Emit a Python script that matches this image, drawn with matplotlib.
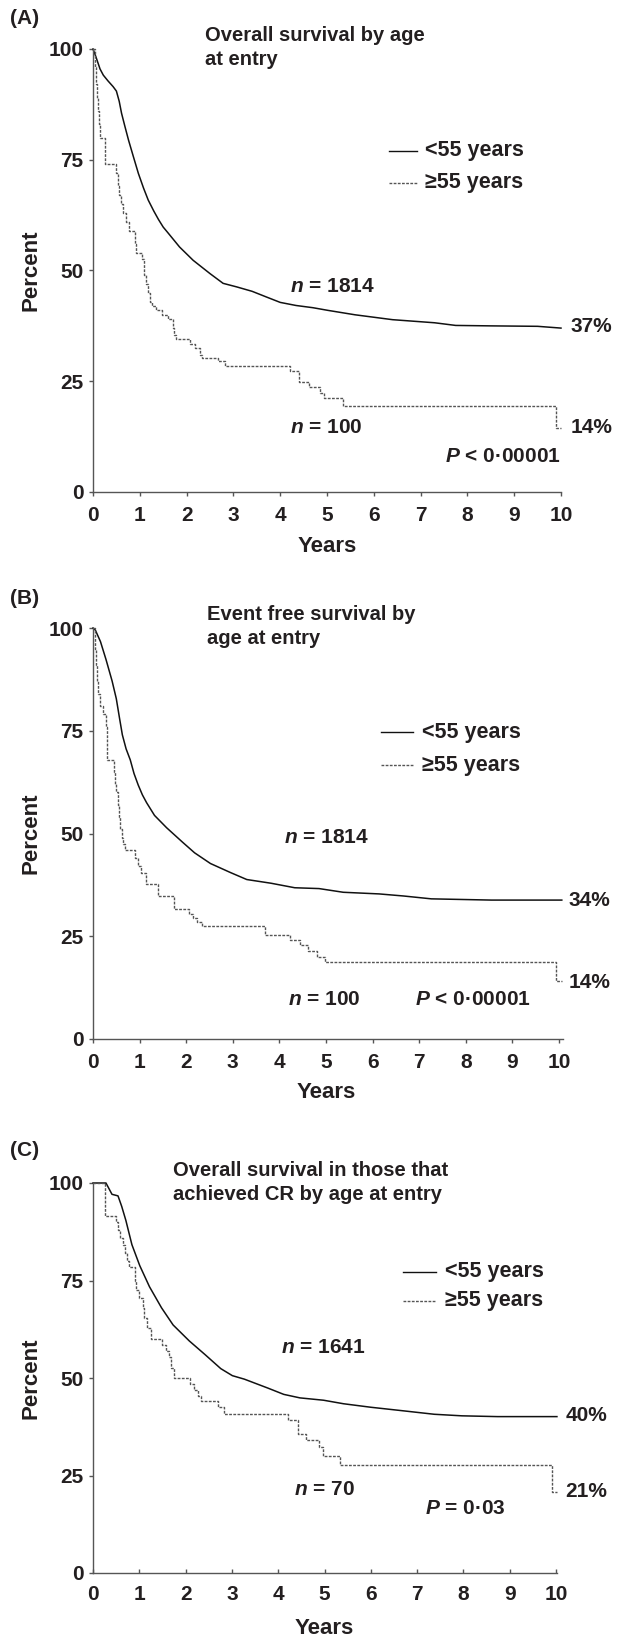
import matplotlib
matplotlib.use('Agg')
import matplotlib.pyplot as plt

plt.rcParams['font.family'] = ['Liberation Sans', 'DejaVu Sans']
plt.rcParams['font.weight'] = 'bold'
plt.rcParams['mathtext.fontset'] = 'custom'
plt.rcParams['mathtext.it'] = 'Liberation Sans:italic:bold'
plt.rcParams['mathtext.rm'] = 'Liberation Sans:bold'

TXT = '#231f20'
AX = '#555555'

# Panel A: overall survival by age at entry
a_young_t = [0, 0.06, 0.15, 0.22, 0.32, 0.43, 0.5, 0.56, 0.61, 0.68, 0.76, 0.86, 0.97, 1.08, 1.18,
             1.3, 1.4, 1.5, 1.61, 1.85, 2.14, 2.5, 2.78, 3.07, 3.4, 3.71, 4.0, 4.34, 4.7, 5.02,
             5.6, 6.4, 7.3, 7.75, 8.5, 9.5, 10.0]
a_young_s = [100, 98.3, 95.5, 94.1, 92.8, 91.5, 90.5, 88.2, 85.5, 82.6, 79.4, 75.8, 71.9, 68.6, 65.9,
             63.4, 61.5, 59.8, 58.4, 55.3, 52.3, 49.3, 47.1, 46.3, 45.3, 44.0, 42.8, 42.1, 41.6, 41.0,
             40.0, 38.9, 38.2, 37.6, 37.5, 37.4, 37.0]
a_old_t = [0, 0.04, 0.07, 0.09, 0.11, 0.13, 0.16, 0.26, 0.50, 0.53, 0.56, 0.60, 0.65, 0.70, 0.76,
           0.90, 0.92, 1.04, 1.10, 1.13, 1.17, 1.21, 1.27, 1.35, 1.47, 1.60, 1.70, 1.73, 1.78, 2.08,
           2.17, 2.28, 2.33, 2.67, 2.82, 4.22, 4.41, 4.62, 4.86, 4.94, 5.34, 9.89, 10.0]
a_old_s = [100, 96, 92, 89, 86, 83, 80, 74, 72, 69, 67, 65, 63, 61, 59,
           56, 54, 52.5, 49, 47, 45, 43, 42, 41, 40, 39, 37, 35.5, 34.5, 33.5,
           32.5, 31, 30.3, 29.5, 28.5, 27.3, 24.8, 23.6, 22.3, 21.2, 19.4, 14.4, 14.4]

# Panel B: event free survival by age at entry
b_young_t = [0, 0.05, 0.16, 0.28, 0.41, 0.5, 0.57, 0.63, 0.71, 0.8, 0.88, 0.97, 1.06, 1.15, 1.32,
             1.58, 1.92, 2.18, 2.52, 2.95, 3.3, 3.82, 4.33, 4.85, 5.37, 6.14, 6.66, 7.26, 8.55, 10.06]
b_young_s = [100, 99.5, 96.7, 92.3, 87.1, 82.8, 78.0, 74.0, 70.6, 67.9, 64.6, 61.8, 59.4, 57.5, 54.4,
             51.4, 47.9, 45.3, 42.7, 40.5, 38.8, 37.9, 36.8, 36.6, 35.7, 35.3, 34.8, 34.1, 33.8, 33.8]
b_old_t = [0, 0.04, 0.07, 0.09, 0.11, 0.16, 0.22, 0.27, 0.30, 0.46, 0.48, 0.50, 0.53, 0.56, 0.59,
           0.62, 0.65, 0.69, 0.90, 0.97, 1.02, 1.13, 1.40, 1.73, 2.06, 2.15, 2.24, 2.33, 3.70, 4.22,
           4.44, 4.62, 4.80, 4.97, 9.93, 10.06]
b_old_s = [100, 95, 91, 87, 84, 81, 79, 75.8, 68, 65, 62, 60, 57, 54, 51,
           49, 47.5, 46, 44, 42, 40.5, 37.8, 34.8, 31.6, 30.5, 29.5, 28.5, 27.5, 25.2, 24.0,
           22.8, 21.5, 20.0, 18.8, 14, 14]

# Panel C: overall survival in those that achieved CR
c_young_t = [0, 0.28, 0.41, 0.54, 0.62, 0.71, 0.84, 1.01, 1.22, 1.48, 1.73, 2.08, 2.42, 2.76, 3.01,
             3.27, 3.78, 4.12, 4.47, 4.98, 5.41, 6.0, 6.69, 7.37, 7.97, 8.74, 10.02]
c_young_s = [100, 100, 97.1, 96.7, 94.0, 90.4, 84.2, 78.8, 73.4, 68.0, 63.6, 59.5, 56.0, 52.4, 50.6,
             49.7, 47.4, 45.8, 44.9, 44.3, 43.4, 42.5, 41.6, 40.7, 40.3, 40.1, 40.1]
c_old_t = [0, 0.25, 0.50, 0.54, 0.59, 0.64, 0.69, 0.74, 0.78, 0.90, 0.93, 1.00, 1.07, 1.10, 1.17,
           1.25, 1.49, 1.58, 1.64, 1.69, 1.76, 2.10, 2.18, 2.26, 2.33, 2.70, 2.84, 4.21, 4.42, 4.61,
           4.88, 4.96, 5.33, 9.92, 10.02]
c_old_s = [100, 91.5, 90, 88, 86, 84, 82, 80, 78.5, 75, 72.5, 70.5, 68, 65.5, 62.8,
           60, 58.5, 57, 55.5, 52.5, 50, 48.5, 47, 45.5, 44, 42.5, 40.8, 39.2, 35.7, 34.2,
           32.3, 30.0, 27.6, 20.8, 20.8]

panel_letters = ['(A)', '(B)', '(C)']
titles = ['Overall survival by age\nat entry',
          'Event free survival by\nage at entry',
          'Overall survival in those that\nachieved CR by age at entry']
n_young = ['1814', '1814', '1641']
n_old = ['100', '100', '70']
p_texts = [r'$P$ < 0·00001', r'$P$ < 0·00001', r'$P$ = 0·03']
end_young = ['37%', '34%', '40%']
end_old = ['14%', '14%', '21%']
legend_labels = ['<55 years', '≥55 years']
yticks = [0, 25, 50, 75, 100]
xticks = list(range(11))

W, H = 619, 1639
fig = plt.figure(figsize=(W / 100, H / 100), dpi=100)

# pixel layout of each panel
layout = [
    dict(top=49, bottom=492, xmax=10.0, x10=561, tickdir='out', years_y=547, letter_y=19,
         title_xy=(2.40, 100.4), leg_x=(6.33, 6.93, 7.10), leg_y=(77.0, 69.8),
         ny=(4.2, 46.3), no=(4.2, 14.6), pxy=(10.0, 8.0, 'right'), ey=37.3, eo=14.5),
    dict(top=628, bottom=1039, xmax=10.08, x10=559, tickdir='out', years_y=1092, letter_y=599,
         title_xy=(2.45, 100.3), leg_x=(6.18, 6.87, 7.06), leg_y=(74.6, 66.6),
         ny=(4.1, 49.0), no=(4.18, 9.6), pxy=(6.92, 9.6, 'left'), ey=33.8, eo=13.8),
    dict(top=1183, bottom=1573, xmax=10.02, x10=556, tickdir='in', years_y=1628, letter_y=1150,
         title_xy=(1.73, 100.2), leg_x=(6.69, 7.41, 7.60), leg_y=(77.2, 69.8),
         ny=(4.06, 57.7), no=(4.34, 21.5), pxy=(7.16, 16.6, 'left'), ey=40.3, eo=20.8),
]

data = [(a_young_t, a_young_s, a_old_t, a_old_s),
        (b_young_t, b_young_s, b_old_t, b_old_s),
        (c_young_t, c_young_s, c_old_t, c_old_s)]

FS = 15
x0 = 93
for i, lay in enumerate(layout):
    yt, ys, ot, os_ = data[i]
    width_px = (lay['x10'] - x0) * lay['xmax'] / 10.0
    ax = fig.add_axes([x0 / W, 1 - lay['bottom'] / H, width_px / W,
                       (lay['bottom'] - lay['top']) / H])
    ax.plot(yt, ys, color='#111111', lw=1.1, clip_on=False)
    ax.plot(ot, os_, color='#555555', lw=1.0, ls=(0, (2, 1)), drawstyle='steps-post',
            clip_on=False)
    ax.set_xlim(0, lay['xmax'])
    ax.set_ylim(0, 100)
    ax.set_xticks(xticks)
    ax.set_yticks(yticks)
    for s in ['top', 'right']:
        ax.spines[s].set_visible(False)
    for s in ['left', 'bottom']:
        ax.spines[s].set_color(AX)
        ax.spines[s].set_linewidth(1.0)
    ax.tick_params(axis='x', direction=lay['tickdir'], length=3, width=1.0, color=AX,
                   labelsize=FS, pad=7 if lay['tickdir'] == 'out' else 9, labelcolor=TXT)
    ax.tick_params(axis='y', direction='out', length=3, width=1.0, color=AX,
                   labelsize=FS, pad=4, labelcolor=TXT)
    ax.patch.set_alpha(0)

    ax.text(lay['title_xy'][0], lay['title_xy'][1], titles[i], ha='left', va='center',
            fontsize=14.5, color=TXT, linespacing=1.35, clip_on=False)
    lx0, lx1, ltx = lay['leg_x']
    ax.plot([lx0, lx1], [lay['leg_y'][0]] * 2, color='#111111', lw=1.0)
    ax.plot([lx0, lx1], [lay['leg_y'][1]] * 2, color='#555555', lw=1.0, ls=(0, (2, 1)))
    ax.text(ltx, lay['leg_y'][0], legend_labels[0], ha='left', va='center', fontsize=FS + 0.5,
            color=TXT)
    ax.text(ltx, lay['leg_y'][1], legend_labels[1], ha='left', va='center', fontsize=FS + 0.5,
            color=TXT)

    ax.text(lay['ny'][0], lay['ny'][1], r'$n$ = ' + n_young[i], ha='left', va='center',
            fontsize=FS, color=TXT)
    ax.text(lay['no'][0], lay['no'][1], r'$n$ = ' + n_old[i], ha='left', va='center',
            fontsize=FS, color=TXT)
    ax.text(lay['pxy'][0], lay['pxy'][1], p_texts[i], ha=lay['pxy'][2], va='center',
            fontsize=FS, color=TXT)
    ax.text(10.2, lay['ey'], end_young[i], ha='left', va='center', fontsize=FS, color=TXT,
            clip_on=False)
    ax.text(10.2, lay['eo'], end_old[i], ha='left', va='center', fontsize=FS, color=TXT,
            clip_on=False)

    fig.text(31 / W, 1 - (lay['top'] + lay['bottom']) / 2 / H, 'Percent', rotation=90,
             ha='center', va='center', fontsize=16, color=TXT)
    fig.text((x0 + lay['x10']) / 2 / W, 1 - lay['years_y'] / H, 'Years', ha='center',
             va='center', fontsize=16, color=TXT)
    fig.text(10 / W, 1 - lay['letter_y'] / H, panel_letters[i], ha='left', va='center',
             fontsize=15, color=TXT)

fig.savefig('out.png', dpi=100, facecolor='white')
